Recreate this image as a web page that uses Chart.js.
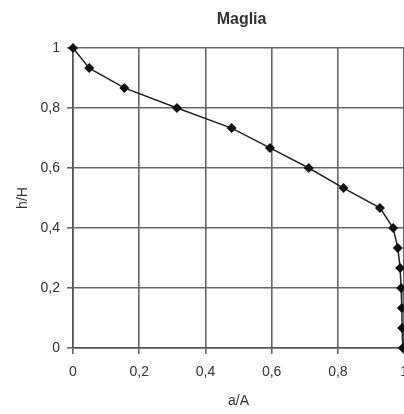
<!DOCTYPE html>
<html>
<head>
<meta charset="utf-8">
<script src="https://cdn.jsdelivr.net/npm/chart.js@4.4.1/dist/chart.umd.min.js"></script>
<style>
    html, body { margin: 0; padding: 0; background: #fff; overflow: hidden; }
    #wrap { width: 418px; height: 414px; }
</style>
</head>
<body>
<div id="wrap"><canvas id="chart" width="418" height="414"></canvas></div>
<script>
// Profile points (a/A, h/H)
const aValues = [0, 0.049, 0.155, 0.314, 0.479, 0.595, 0.712, 0.817, 0.927, 0.967, 0.981, 0.988, 0.991, 0.993, 0.994, 0.996];
const hValues = [1, 0.933, 0.867, 0.8, 0.733, 0.667, 0.6, 0.533, 0.467, 0.4, 0.333, 0.267, 0.2, 0.133, 0.067, 0];

const xTickLabels = ['0', '0,2', '0,4', '0,6', '0,8', '1'];
const yTickLabels = ['0', '0,2', '0,4', '0,6', '0,8', '1'];

const chartTitle = 'Maglia';
const xTitle = 'a/A';
const yTitle = 'h/H';

const textColor = '#333';
const gridColor = '#666';
const font = { family: '"Liberation Sans", Arial, sans-serif', size: 14 };

const points = aValues.map((a, i) => ({ x: a, y: hValues[i] }));

// Title centred over the plot area (like the original), not over the canvas
const plotTitle = {
    id: 'plotTitle',
    afterDraw(chart) {
        const { ctx, chartArea } = chart;
        ctx.save();
        ctx.font = 'bold 16px ' + font.family;
        ctx.fillStyle = textColor;
        ctx.textAlign = 'center';
        ctx.textBaseline = 'middle';
        ctx.fillText(chartTitle, (chartArea.left + chartArea.right) / 2 + 3, 20);
        ctx.restore();
    }
};

new Chart(document.getElementById('chart'), {
    type: 'scatter',
    data: {
        datasets: [{
            data: points,
            showLine: true,
            tension: 0,
            borderColor: '#222',
            borderWidth: 1.5,
            backgroundColor: '#111',
            pointStyle: 'rectRot',
            pointRadius: 5,
            pointBorderWidth: 0,
            clip: false
        }]
    },
    plugins: [plotTitle],
    options: {
        responsive: false,
        animation: false,
        devicePixelRatio: 1,
        layout: { padding: { left: 0, right: 7, top: 48, bottom: 0 } },
        plugins: {
            legend: { display: false },
            tooltip: { enabled: false },
            title: { display: false }
        },
        scales: {
            x: {
                type: 'linear',
                min: 0,
                max: 1,
                afterFit: s => { s.height = 66; },
                ticks: {
                    stepSize: 0.2,
                    color: textColor,
                    font: font,
                    padding: 10,
                    maxRotation: 0,
                    callback: (v, i) => xTickLabels[i]
                },
                grid: { color: gridColor, lineWidth: 1.6, tickLength: 6 },
                border: { color: '#555', width: 1.6 },
                title: {
                    display: true,
                    text: xTitle,
                    color: textColor,
                    font: font,
                    padding: { top: 0, bottom: 4 }
                }
            },
            y: {
                type: 'linear',
                min: 0,
                max: 1,
                afterFit: s => { s.width = 73; },
                ticks: {
                    stepSize: 0.2,
                    color: textColor,
                    font: font,
                    padding: 7,
                    callback: (v, i) => yTickLabels[i]
                },
                grid: { color: gridColor, lineWidth: 1.6, tickLength: 6 },
                border: { color: '#555', width: 1.6 },
                title: {
                    display: true,
                    text: yTitle,
                    color: textColor,
                    font: font,
                    padding: { top: 15, bottom: 0 }
                }
            }
        }
    }
});
</script>
</body>
</html>
